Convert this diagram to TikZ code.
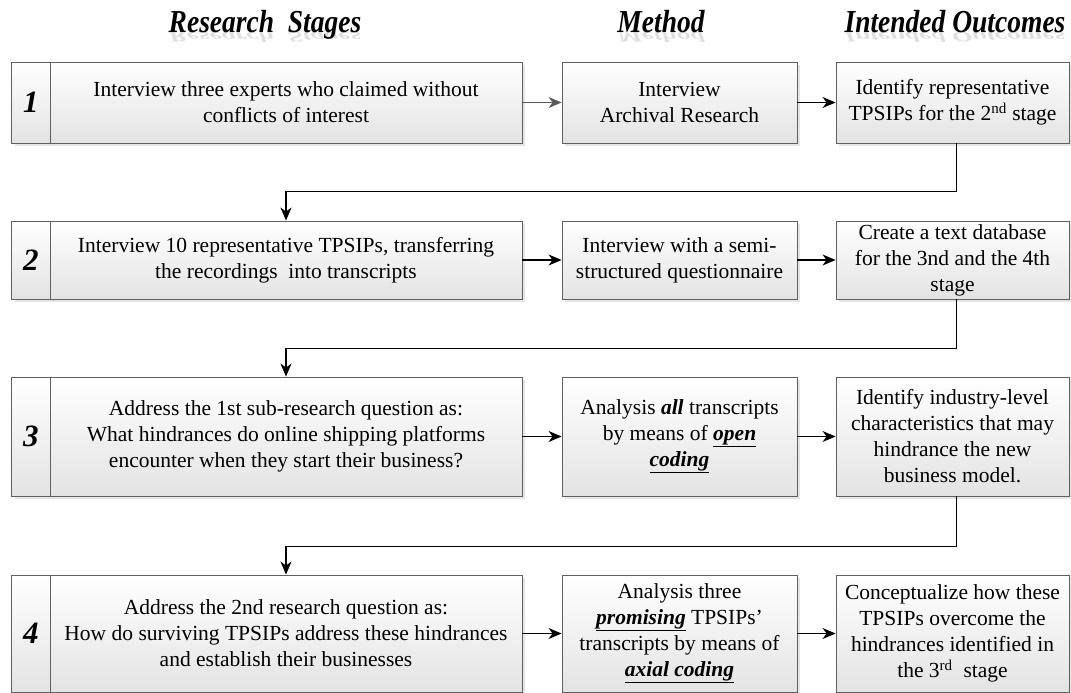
\documentclass[tikz,border=0pt]{standalone}
\usepackage{fontspec}
\setmainfont{Liberation Serif}
\newfontfamily\headfont[FakeStretch=0.86]{Liberation Serif}
\usetikzlibrary{arrows.meta,shadows}
\newcommand{\ubi}[1]{\underline{\textbf{\textit{#1}}}}
\tikzset{
  box/.style={draw=gray!75!black, line width=0.9pt, top color=white, bottom color=gray!22,
    drop shadow={shadow xshift=3pt, shadow yshift=-3pt, fill=gray!40, opacity=0.5},
    inner sep=0pt, align=center, font=\fontsize{21.5}{26}\selectfont},
  numbox/.style={box, font=\fontsize{31}{31}\selectfont\bfseries\itshape},
  arr/.style={-{Stealth[length=13pt,width=11pt,inset=4pt]}, line width=1.1pt},
  head/.style={font=\headfont\fontsize{32}{32}\selectfont\bfseries\itshape, anchor=base},
  headrefl/.style={head, text=gray!25, yscale=-0.45, transform shape},
}
\begin{document}
\begin{tikzpicture}[x=1pt,y=-1pt]
\useasboundingbox[fill=white] (0,0) rectangle (1071,693);
% headings
\node[headrefl] (r1) at (265,33) {Research\ \ Stages};
\node[headrefl] (r2) at (661,33) {Method};
\node[headrefl] (r3) at (955,33) {Intended Outcomes};
\node[head] (h1) at (265,33) {Research\ \ Stages};
\node[head] (h2) at (661,33) {Method};
\node[head] (h3) at (955,33) {Intended Outcomes};
% row 1
\node[numbox, minimum width=39pt, minimum height=81pt] (n1) at (31,102.5) {1};
\node[box, minimum width=472pt, minimum height=81pt] (t1) at (286,102.5) {Interview three experts who claimed without\\conflicts of interest};
\node[box, minimum width=235pt, minimum height=81pt] (m1) at (679.5,102.5) {Interview\\Archival Research};
\node[box, minimum width=233pt, minimum height=81pt] (o1) at (952.5,102.5) {Identify representative\\TPSIPs for the 2\textsuperscript{nd} stage};
% row 2
\node[numbox, minimum width=39pt, minimum height=78pt] (n2) at (31,260) {2};
\node[box, minimum width=472pt, minimum height=78pt] (t2) at (286,260) {Interview 10 representative TPSIPs, transferring\\the recordings\ \ into transcripts};
\node[box, minimum width=235pt, minimum height=78pt] (m2) at (679.5,260) {Interview with a semi-\\structured questionnaire};
\node[box, minimum width=233pt, minimum height=78pt] (o2) at (952.5,260) {Create a text database\\for the 3nd and the 4th\\stage};
% row 3
\node[numbox, minimum width=39pt, minimum height=119pt] (n3) at (31,436.5) {3};
\node[box, minimum width=472pt, minimum height=119pt] (t3) at (286,436.5) {Address the 1st sub-research question as:\\What hindrances do online shipping platforms\\encounter when they start their business?};
\node[box, minimum width=235pt, minimum height=119pt] (m3) at (679.5,436.5) {Analysis \textbf{\textit{all}} transcripts\\by means of \ubi{open}\\\ubi{coding}};
\node[box, minimum width=233pt, minimum height=119pt] (o3) at (952.5,436.5) {Identify industry-level\\characteristics that may\\hindrance the new\\business model.};
% row 4
\node[numbox, minimum width=39pt, minimum height=117pt] (n4) at (31,633.5) {4};
\node[box, minimum width=472pt, minimum height=117pt] (t4) at (286,633.5) {Address the 2nd research question as:\\How do surviving TPSIPs address these hindrances\\and establish their businesses};
\node[box, minimum width=235pt, minimum height=117pt] (m4) at (679.5,633.5) {Analysis three\\\ubi{promising} TPSIPs’\\transcripts by means of\\\ubi{axial coding}};
\node[box, minimum width=233pt, minimum height=117pt] (o4) at (952.5,633.5) {Conceptualize how these\\TPSIPs overcome the\\hindrances identified in\\the 3\textsuperscript{rd}\ \ stage};
% horizontal arrows
\draw[arr, gray!70!black] (t1) -- (m1);
\draw[arr] (m1) -- (o1);
\draw[arr] (t2) -- (m2);
\draw[arr] (m2) -- (o2);
\draw[arr] (t3) -- (m3);
\draw[arr] (m3) -- (o3);
\draw[arr] (t4) -- (m4);
\draw[arr] (m4) -- (o4);
% stage connectors
\draw[arr] ([xshift=4pt]o1.south) -- ++(0,48) -| (t2.north);
\draw[arr] ([xshift=4pt]o2.south) -- ++(0,49) -| (t3.north);
\draw[arr] ([xshift=4pt]o3.south) -- ++(0,50) -| (t4.north);
\end{tikzpicture}
\end{document}
